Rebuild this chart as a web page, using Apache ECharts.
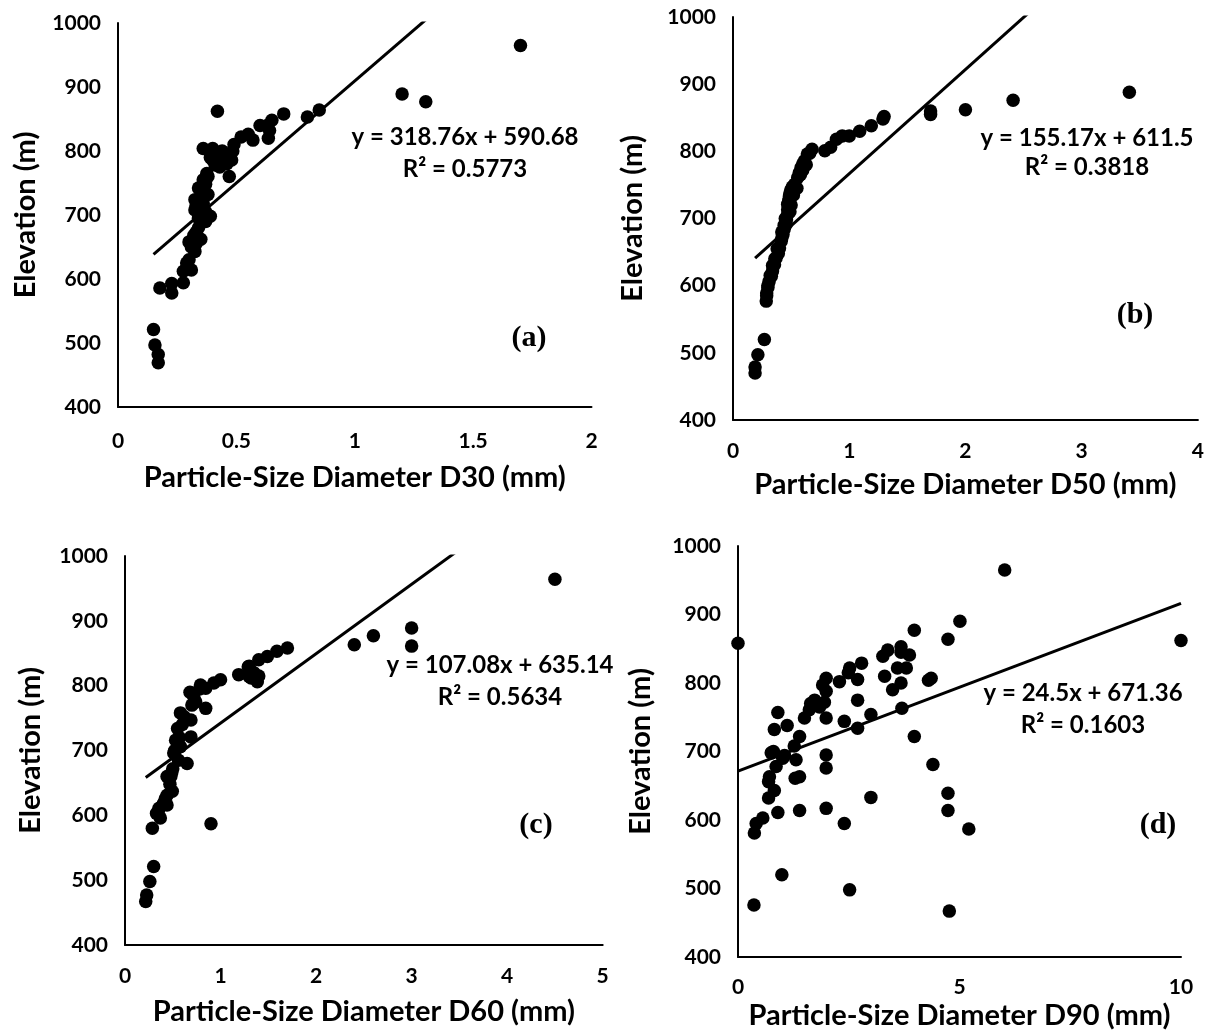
<!DOCTYPE html>
<html><head><meta charset="utf-8">
<script src="https://cdn.jsdelivr.net/npm/echarts@6/dist/echarts.min.js"></script>
<style>html,body{margin:0;padding:0;background:#fff}#c{width:1207px;height:1036px}</style>
</head><body><div id="c"></div>
<script>
// ---------- data ----------
const xA = [1.70,1.20,1.30,0.42,0.85,0.80,0.70,0.65,0.63,0.60,0.64,0.635,0.57,0.52,0.55,0.49,0.48,0.485,0.47,0.36,0.40,0.42,0.40,0.43,0.41,0.375,0.36,0.34,0.37,0.325,0.38,0.36,0.325,0.39,0.37,0.35,0.34,0.33,0.35,0.30,0.325,0.30,0.276,0.31,0.276,0.227,0.227,0.177,0.15,0.156,0.17,0.17,0.33,0.36,0.37,0.34,0.31,0.33,0.29,0.32,0.38,0.39,0.44,0.45,0.46];
const yA = [965,889,877,862,864,853,858,848,840,840,832,820,817,822,826,810,786,800,760,804,804,796,786,775,778,765,755,742,748,724,732,718,708,698,705,688,680,673,662,658,643,630,612,614,594,593,578,586,521,497,482,469,715,728,690,695,650,655,625,668,760,790,800,790,780];

const xB = [3.41,2.41,2.00,1.70,1.70,1.30,1.29,1.19,1.09,1.00,0.94,0.89,0.84,0.79,0.68,0.66,0.64,0.615,0.60,0.586,0.57,0.557,0.53,0.51,0.50,0.49,0.486,0.48,0.47,0.47,0.47,0.46,0.457,0.44,0.43,0.42,0.415,0.40,0.39,0.37,0.357,0.34,0.33,0.31,0.30,0.29,0.286,0.27,0.214,0.19,0.19,0.50,0.52,0.55,0.58,0.60,0.63,0.45,0.49,0.44,0.42,0.38,0.36,0.34,0.32,0.30,0.29];
const yB = [888,876,862,860,855,852,848,838,830,823,823,818,806,801,803,797,796,786,781,776,768,761,751,747,743,738,733,727,721,713,706,698,691,684,676,671,666,656,648,641,631,622,614,606,597,589,577,520,497,479,470,720,735,745,765,772,780,700,710,690,680,655,640,630,615,600,585];

const xC = [4.50,3.00,3.00,2.60,2.40,1.70,1.59,1.49,1.40,1.30,1.29,1.19,1.30,1.40,1.385,1.00,0.93,0.845,0.79,0.72,0.845,0.74,0.58,0.69,0.55,0.69,0.53,0.58,0.51,0.65,0.56,0.44,0.49,0.495,0.44,0.44,0.356,0.37,0.33,0.286,0.90,0.30,0.26,0.227,0.217,0.52,0.55,0.57,0.48,0.50,0.47,0.42,0.40,0.35,0.60,0.62,0.70,0.78,0.68,1.35,1.32];
const yC = [964,889,861,877,863,858,853,845,840,830,829,817,814,815,806,809,804,796,801,783,765,775,758,747,734,721,716,706,696,680,685,660,666,637,631,616,611,596,603,580,587,521,498,477,467,700,705,720,660,672,648,625,618,607,740,752,770,795,790,820,812];

const xD = [0,10,6.02,5.01,3.98,4.74,3.68,3.38,3.27,3.87,3.68,3.80,3.60,3.31,3.68,3.49,2.79,2.52,2.49,2.29,2.70,2.70,1.99,1.91,1.99,1.73,1.95,1.84,1.61,1.64,1.50,1.99,2.40,3.00,2.70,3.70,3.98,4.36,4.30,0.90,0.82,1.11,1.39,1.27,0.75,1.01,0.86,0.71,0.69,1.31,1.29,1.39,1.99,1.99,0.82,0.69,0.90,1.39,1.99,2.40,3.00,4.40,4.74,4.74,0.56,0.41,0.37,5.21,0.99,2.52,0.36,4.77,0.80,1.05];
const yD = [858,862,965,890,877,864,853,848,839,841,845,822,822,810,800,790,829,822,815,802,805,775,807,797,788,775,772,765,761,770,749,749,744,754,734,763,722,807,804,757,732,738,722,708,698,690,678,663,656,688,661,663,695,676,643,632,611,614,617,595,633,681,639,614,603,595,581,587,520,498,476,467,700,694];

const slopes = [318.76, 155.17, 107.08, 24.5];
const intercepts = [590.68, 611.5, 635.14, 671.36];
const eqTexts = ['y = 318.76x + 590.68','y = 155.17x + 611.5','y = 107.08x + 635.14','y = 24.5x + 671.36'];
const r2Texts = ['R² = 0.5773','R² = 0.3818','R² = 0.5634','R² = 0.1603'];
const panelLabels = ['(a)','(b)','(c)','(d)'];
const xTitles = ['Particle-Size Diameter D30 (mm)','Particle-Size Diameter D50 (mm)','Particle-Size Diameter D60 (mm)','Particle-Size Diameter D90 (mm)'];
const yTitle = 'Elevation (m)';
const xMax = [2, 4, 5, 10];
const xStep = [0.5, 1, 1, 5];
const yMin = 400, yMax = 1000, yStep = 100;

// ---------- layout ----------
const grids = [
  {left:118, top:23, width:473.5, height:384},
  {left:733, top:17, width:466, height:403},
  {left:125, top:556, width:477.7, height:389},
  {left:738, top:546, width:443, height:411}
];
const xNameGap = [56, 50, 52, 44];
const xLabelMargin = [24, 21, 21, 20];
const yNameGap = [78, 86, 80, 83];
const eqPos = [[465,137,169],[1087,138,167],[500,665,697],[1083,693,725]];
const lblPos = [[529,338],[1135,315],[536,825],[1158,825]];

const SANS = 'Lato';
const TICK = 21, TITLE = 29, EQ = 24;
const xs = [xA,xB,xC,xD], ys = [yA,yB,yC,yD];

const xAxes = [], yAxes = [], series = [], graphics = [];
for (let i=0;i<4;i++){
  xAxes.push({
    gridIndex:i, type:'value', min:0, max:xMax[i], interval:xStep[i],
    name:xTitles[i], nameLocation:'middle', nameGap:xNameGap[i],
    nameTextStyle:{fontFamily:SANS, fontWeight:'bold', fontSize:TITLE, color:'#000'},
    axisLine:{show:true, onZero:false, lineStyle:{color:'#000', width:2}},
    axisTick:{show:false}, splitLine:{show:false},
    axisLabel:{fontFamily:SANS, fontWeight:'bold', fontSize:TICK, color:'#000', margin:xLabelMargin[i], formatter:v=>String(v)}
  });
  yAxes.push({
    gridIndex:i, type:'value', min:yMin, max:yMax, interval:yStep,
    name:yTitle, nameLocation:'middle', nameGap:yNameGap[i], nameRotate:90,
    nameTextStyle:{fontFamily:SANS, fontWeight:'bold', fontSize:TITLE, color:'#000'},
    axisLine:{show:true, onZero:false, lineStyle:{color:'#000', width:2}},
    axisTick:{show:false}, splitLine:{show:false},
    axisLabel:{fontFamily:SANS, fontWeight:'bold', fontSize:TICK, color:'#000', margin:17, formatter:v=>String(v)}
  });
  const pts = xs[i].map((x,k)=>[x, ys[i][k]]);
  series.push({
    type:'scatter', xAxisIndex:i, yAxisIndex:i, data:pts,
    symbol:'circle', symbolSize:13.5, itemStyle:{color:'#000', opacity:1}, silent:true
  });
  const lo = Math.min(...xs[i]), hi = Math.max(...xs[i]);
  series.push({
    type:'line', xAxisIndex:i, yAxisIndex:i, clip:true, symbol:'none', silent:true,
    data:[[lo, slopes[i]*lo+intercepts[i]],[hi, slopes[i]*hi+intercepts[i]]],
    lineStyle:{color:'#000', width:3}, z:3
  });
  graphics.push({type:'text', x:eqPos[i][0], y:eqPos[i][1], style:{text:eqTexts[i], font:'bold '+EQ+'px '+SANS, fill:'#000', align:'center', verticalAlign:'middle'}});
  graphics.push({type:'text', x:eqPos[i][0], y:eqPos[i][2], style:{text:r2Texts[i], font:'bold '+EQ+'px '+SANS, fill:'#000', align:'center', verticalAlign:'middle'}});
  graphics.push({type:'text', x:lblPos[i][0], y:lblPos[i][1], style:{text:panelLabels[i], font:'bold 30px "Liberation Serif"', fill:'#000', align:'center', verticalAlign:'middle'}});
}

const chart = echarts.init(document.getElementById('c'), null, {renderer:'canvas'});
chart.setOption({
  animation:false, backgroundColor:'#fff',
  grid:grids, xAxis:xAxes, yAxis:yAxes, series:series, graphic:graphics
});
</script>
</body></html>
